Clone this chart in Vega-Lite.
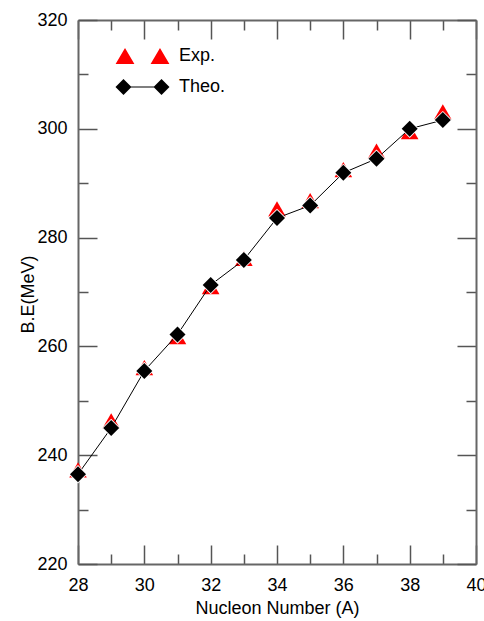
{
  "$schema": "https://vega.github.io/schema/vega-lite/v6.json",
  "width": 398,
  "height": 544,
  "autosize": "none",
  "padding": {"left": 78, "top": 20, "right": 8, "bottom": 57},
  "background": "white",
  "config": {
    "view": {"stroke": null},
    "font": "Liberation Sans",
    "axis": {
      "grid": false,
      "labelFlush": false,
      "domainColor": "#666666",
      "domainWidth": 2,
      "tickColor": "#555555",
      "tickWidth": 1.5,
      "labelFont": "Liberation Sans",
      "labelFontSize": 18,
      "labelColor": "#000000",
      "titleFont": "Liberation Sans",
      "titleFontSize": 18,
      "titleFontWeight": "normal",
      "titleColor": "#000000"
    },
    "legend": {
      "title": null,
      "orient": "none",
      "padding": 0,
      "symbolSize": 2916,
      "labelOffset": 9.5,
      "labelFont": "Liberation Sans",
      "labelFontSize": 18,
      "labelColor": "#000000",
      "symbolStrokeWidth": 0,
      "symbolOpacity": 1
    }
  },
  "data": {
    "values": [
      {"A": 28, "exp": 237.3, "theo": 236.5},
      {"A": 29, "exp": 246.3, "theo": 245.0},
      {"A": 30, "exp": 256.1, "theo": 255.5},
      {"A": 31, "exp": 261.8, "theo": 262.2},
      {"A": 32, "exp": 271.0, "theo": 271.3},
      {"A": 33, "exp": 276.2, "theo": 275.9},
      {"A": 34, "exp": 285.3, "theo": 283.6},
      {"A": 35, "exp": 286.8, "theo": 285.9},
      {"A": 36, "exp": 292.5, "theo": 291.9},
      {"A": 37, "exp": 295.9, "theo": 294.5},
      {"A": 38, "exp": 299.5, "theo": 300.0},
      {"A": 39, "exp": 303.1, "theo": 301.6}
    ]
  },
  "layer": [
    {
      "mark": {"type": "point", "shape": "triangle-up", "filled": true, "size": 310, "opacity": 1},
      "encoding": {
        "x": {
          "field": "A", "type": "quantitative",
          "scale": {"domain": [28, 40], "nice": false, "zero": false},
          "axis": {
            "orient": "top", "title": null, "labels": false,
            "values": [28, 29, 30, 31, 32, 33, 34, 35, 36, 37, 38, 39, 40],
            "tickSize": {"condition": {"test": "datum.value % 2 === 0", "value": -19}, "value": -10}
          }
        },
        "y": {
          "field": "exp", "type": "quantitative",
          "scale": {"domain": [220, 320], "nice": false, "zero": false},
          "axis": {
            "orient": "right", "title": null, "labels": false,
            "values": [220, 230, 240, 250, 260, 270, 280, 290, 300, 310, 320],
            "tickSize": {"condition": {"test": "datum.value % 20 === 0", "value": -19}, "value": -10}
          }
        },
        "color": {
          "datum": "Exp.",
          "scale": {"domain": ["Exp."], "range": ["#ff0000"]},
          "legend": {
            "legendX": 37.5,
            "legendY": 9,
            "symbolType": "M-0.648,-0.3L-0.3,0.3L-0.996,0.3Z M0.648,-0.3L0.996,0.3L0.3,0.3Z",
            "symbolFillColor": "#ff0000"
          }
        }
      }
    },
    {
      "encoding": {
        "x": {
          "field": "A", "type": "quantitative",
          "scale": {"domain": [28, 40], "nice": false, "zero": false},
          "axis": {
            "orient": "bottom", "title": "Nucleon Number (A)",
            "values": [28, 29, 30, 31, 32, 33, 34, 35, 36, 37, 38, 39, 40],
            "labelExpr": "datum.value % 2 === 0 ? datum.label : ''",
            "tickSize": {"condition": {"test": "datum.value % 2 === 0", "value": -19}, "value": -10},
            "labelPadding": 31,
            "titleX": 199,
            "titleY": 35,
            "titleBaseline": "top"
          }
        },
        "y": {
          "field": "theo", "type": "quantitative",
          "scale": {"domain": [220, 320], "nice": false, "zero": false},
          "axis": {
            "orient": "left", "title": "B.E(MeV)",
            "values": [220, 230, 240, 250, 260, 270, 280, 290, 300, 310, 320],
            "labelExpr": "datum.value % 20 === 0 ? datum.label : ''",
            "tickSize": {"condition": {"test": "datum.value % 20 === 0", "value": -19}, "value": -10},
            "labelPadding": 30,
            "titleX": -41,
            "titleY": 274
          }
        }
      },
      "layer": [
        {"mark": {"type": "line", "strokeWidth": 1, "color": "#000000"}},
        {"mark": {"type": "point", "shape": "diamond", "filled": true, "size": 340, "opacity": 1, "color": "#ffffff"}},
        {
          "mark": {"type": "point", "shape": "diamond", "filled": true, "size": 256, "color": "#000000"},
          "encoding": {
            "opacity": {
              "datum": "Theo.",
              "scale": {"domain": ["Theo."], "range": [1]},
              "legend": {
                "legendX": 37.5,
                "legendY": 40,
                "symbolType": "M-0.704,-0.296L-0.408,0L-0.704,0.296L-1,0Z M0.704,-0.296L1,0L0.704,0.296L0.408,0Z M-0.704,-0.02L0.704,-0.02L0.704,0.02L-0.704,0.02Z",
                "symbolFillColor": "#000000"
              }
            }
          }
        }
      ]
    }
  ],
  "resolve": {"scale": {"x": "independent", "y": "independent"}}
}
